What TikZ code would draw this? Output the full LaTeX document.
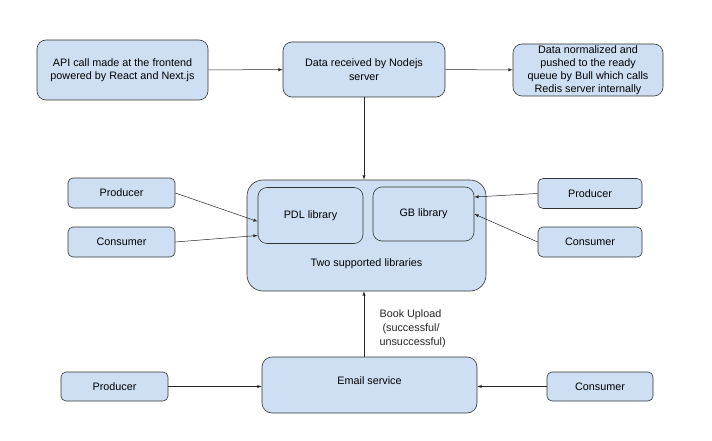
\documentclass[tikz,border=0pt]{standalone}
\usepackage{fontspec}
\setmainfont{Liberation Sans}
\usepackage{tikz}
\usetikzlibrary{positioning}
\usetikzlibrary{calc}
\definecolor{boxblue}{RGB}{207,223,243}
\tikzset{process box/.style={draw=black!80, fill=boxblue, rounded corners=9pt, align=center, line width=0.6pt, inner sep=2pt, font=\fontsize{10.8}{13.5}\selectfont}}
\tikzset{actor box/.style={process box, rounded corners=5pt, minimum width=107pt, minimum height=30pt}}
\tikzset{flow/.style={->, >=latex, line width=0.5pt, black!85}}

\begin{document}
\begin{tikzpicture}[x=1pt, y=-1pt]
\useasboundingbox (0,0) rectangle (712,441);
\node[process box, minimum width=171pt, minimum height=60pt] (api) at (122.5,70) {API call made at the frontend\\powered by React and Next.js};
\node[process box, minimum width=162pt, minimum height=55pt] (recv) at (364,69.5) {Data received by Nodejs\\server};
\node[process box, minimum width=150pt, minimum height=52pt, inner sep=0pt, font=\fontsize{10.8}{13}\selectfont] (norm) at (588,70) {Data normalized and\\pushed to the ready\\queue by Bull which calls\\Redis server internally};
\draw[flow] (api) to (recv);
\draw[flow] (recv) to (norm);

\node[process box, rounded corners=16pt, minimum width=239pt, minimum height=111pt] (libs) at (366.5,235.5) {};
\node[process box, minimum width=105pt, minimum height=56pt] (pdl) at (310.5,215.5) {PDL library};
\node[process box, minimum width=101pt, minimum height=54pt] (gb) at (423.5,214) {GB library};
\node[font=\fontsize{10.8}{13}\selectfont] (libtext) at (366.5,264) {Two supported libraries};
\draw[flow] (recv) to (recv|-libs.north);

\node[actor box] (prodl) at (121.5,193) {Producer};
\node[actor box] (consl) at (121.5,242) {Consumer};
\node[actor box, minimum width=104pt] (prodr) at (590,193.5) {Producer};
\node[actor box, minimum width=104pt] (consr) at (590,242) {Consumer};
\draw[flow] (prodl.east) to ($(pdl.west)+(0,6)$);
\draw[flow] (consl.east) to ($(pdl.west)+(0,20)$);
\draw[flow] (prodr.west) to ($(gb.east)+(0,-17)$);
\draw[flow] (consr.west) to (gb.east);

\node[process box, rounded corners=10pt, minimum width=215pt, minimum height=56pt] (email) at (369.5,385) {};
\node[font=\fontsize{10.8}{13}\selectfont] (emailtext) at (369.5,381) {Email service};
\coordinate (up) at (email.north-|recv);
\draw[flow] (up) to node[right=12pt, yshift=-5pt, align=left, font=\fontsize{10.8}{14}\selectfont] {Book Upload\\ \ (successful/\\ unsuccessful)} (up|-libs.south);

\node[actor box, minimum height=29pt] (prodb) at (114.5,386.5) {Producer};
\node[actor box, minimum width=106pt, minimum height=29pt] (consb) at (600,386.5) {Consumer};
\draw[flow] (prodb) to (prodb-|email.west);
\draw[flow] (consb) to (consb-|email.east);
\end{tikzpicture}
\end{document}
